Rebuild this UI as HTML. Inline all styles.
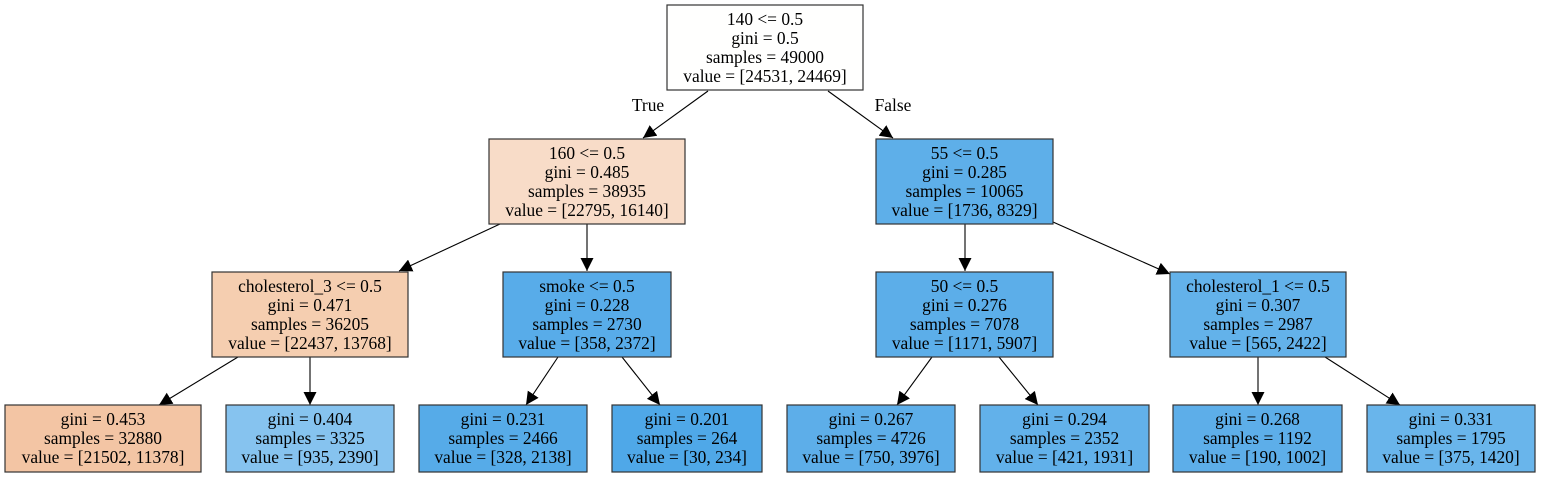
<!DOCTYPE html>
<html><head><meta charset="utf-8"><style>
html,body{margin:0;padding:0;background:#fff;}
svg{display:block;}
text{font-family:"Liberation Serif",serif;font-size:17.4px;fill:#000;text-anchor:middle;}
rect{stroke:#333;stroke-width:1.2;}
line{stroke:#000;stroke-width:1.1;}
</style></head><body>
<svg width="1541" height="477" viewBox="0 0 1541 477" xmlns="http://www.w3.org/2000/svg">
<defs><marker id="a" viewBox="0 0 10 10" refX="10" refY="5" markerWidth="13" markerHeight="13" markerUnits="userSpaceOnUse" orient="auto"><path d="M0,0 L10,5 L0,10 z" fill="#000"/></marker></defs>
<g>
<line x1="708" y1="91" x2="643" y2="138" marker-end="url(#a)"/>
<line x1="828" y1="91" x2="893" y2="138" marker-end="url(#a)"/>
<line x1="500" y1="224" x2="399" y2="271" marker-end="url(#a)"/>
<line x1="587" y1="224" x2="587" y2="271" marker-end="url(#a)"/>
<line x1="965" y1="224" x2="965" y2="271" marker-end="url(#a)"/>
<line x1="1053" y1="222" x2="1170" y2="274" marker-end="url(#a)"/>
<line x1="238" y1="357" x2="159" y2="405" marker-end="url(#a)"/>
<line x1="310" y1="357" x2="310" y2="405" marker-end="url(#a)"/>
<line x1="558" y1="357" x2="526" y2="405" marker-end="url(#a)"/>
<line x1="622" y1="357" x2="660" y2="405" marker-end="url(#a)"/>
<line x1="932" y1="357" x2="897" y2="405" marker-end="url(#a)"/>
<line x1="999" y1="357" x2="1038" y2="405" marker-end="url(#a)"/>
<line x1="1258" y1="357" x2="1258" y2="405" marker-end="url(#a)"/>
<line x1="1325" y1="357" x2="1400" y2="405" marker-end="url(#a)"/>
</g>
<text x="648" y="111">True</text>
<text x="893" y="111">False</text>

<rect x="667" y="5" width="196" height="85" fill="#fffffe"/>
<text x="765" y="25">140 &lt;= 0.5</text><text x="765" y="44">gini = 0.5</text><text x="765" y="63">samples = 49000</text><text x="765" y="82">value = [24531, 24469]</text>

<rect x="489" y="139" width="196" height="85" fill="#f8dcc8"/>
<text x="587" y="159">160 &lt;= 0.5</text><text x="587" y="178">gini = 0.485</text><text x="587" y="197">samples = 38935</text><text x="587" y="216">value = [22795, 16140]</text>

<rect x="876" y="139" width="177" height="85" fill="#5eafe9"/>
<text x="964.5" y="159">55 &lt;= 0.5</text><text x="964.5" y="178">gini = 0.285</text><text x="964.5" y="197">samples = 10065</text><text x="964.5" y="216">value = [1736, 8329]</text>

<rect x="212" y="272" width="196" height="85" fill="#f5ceb0"/>
<text x="310" y="292">cholesterol_3 &lt;= 0.5</text><text x="310" y="311">gini = 0.471</text><text x="310" y="330">samples = 36205</text><text x="310" y="349">value = [22437, 13768]</text>

<rect x="503" y="272" width="168" height="85" fill="#58ace9"/>
<text x="587" y="292">smoke &lt;= 0.5</text><text x="587" y="311">gini = 0.228</text><text x="587" y="330">samples = 2730</text><text x="587" y="349">value = [358, 2372]</text>

<rect x="876" y="272" width="177" height="85" fill="#5caee9"/>
<text x="964.5" y="292">50 &lt;= 0.5</text><text x="964.5" y="311">gini = 0.276</text><text x="964.5" y="330">samples = 7078</text><text x="964.5" y="349">value = [1171, 5907]</text>

<rect x="1170" y="272" width="176" height="85" fill="#63b2ea"/>
<text x="1258" y="292">cholesterol_1 &lt;= 0.5</text><text x="1258" y="311">gini = 0.307</text><text x="1258" y="330">samples = 2987</text><text x="1258" y="349">value = [565, 2422]</text>

<rect x="5" y="405" width="196" height="67" fill="#f3c5a4"/>
<text x="103" y="425">gini = 0.453</text><text x="103" y="444">samples = 32880</text><text x="103" y="463">value = [21502, 11378]</text>

<rect x="226" y="405" width="168" height="67" fill="#86c3ef"/>
<text x="310" y="425">gini = 0.404</text><text x="310" y="444">samples = 3325</text><text x="310" y="463">value = [935, 2390]</text>

<rect x="419" y="405" width="168" height="67" fill="#56abe8"/>
<text x="503" y="425">gini = 0.231</text><text x="503" y="444">samples = 2466</text><text x="503" y="463">value = [328, 2138]</text>

<rect x="612" y="405" width="150" height="67" fill="#4fa8e8"/>
<text x="687" y="425">gini = 0.201</text><text x="687" y="444">samples = 264</text><text x="687" y="463">value = [30, 234]</text>

<rect x="787" y="405" width="168" height="67" fill="#5daee9"/>
<text x="871" y="425">gini = 0.267</text><text x="871" y="444">samples = 4726</text><text x="871" y="463">value = [750, 3976]</text>

<rect x="980" y="405" width="169" height="67" fill="#62b1ea"/>
<text x="1064.5" y="425">gini = 0.294</text><text x="1064.5" y="444">samples = 2352</text><text x="1064.5" y="463">value = [421, 1931]</text>

<rect x="1173" y="405" width="169" height="67" fill="#5daee9"/>
<text x="1257.5" y="425">gini = 0.268</text><text x="1257.5" y="444">samples = 1192</text><text x="1257.5" y="463">value = [190, 1002]</text>

<rect x="1367" y="405" width="168" height="67" fill="#69b5eb"/>
<text x="1451" y="425">gini = 0.331</text><text x="1451" y="444">samples = 1795</text><text x="1451" y="463">value = [375, 1420]</text>
</svg>
</body></html>
